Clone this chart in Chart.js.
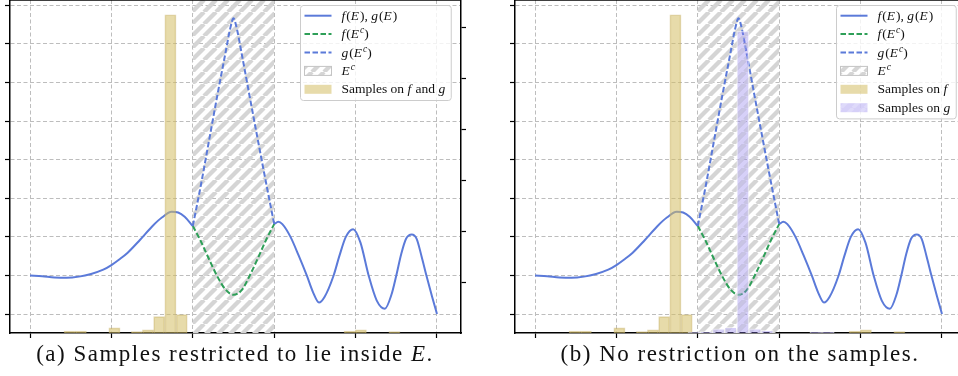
<!DOCTYPE html>
<html>
<head>
<meta charset="utf-8">
<script src="https://cdn.jsdelivr.net/npm/chart.js@4/dist/chart.umd.min.js"></script>
<style>
  html, body { margin: 0; padding: 0; background: #fff; }
  body { width: 958px; height: 376px; overflow: hidden; position: relative; }
  .panel { position: absolute; top: 0; width: 480px; height: 345px; }
  .caption { position: absolute; top: 341px; width: 460px; text-align: center;
             font-family: "Liberation Serif", serif; font-size: 23px; letter-spacing: 1.5px;
             color: #111; white-space: nowrap; }
</style>
</head>
<body>
<div class="panel" style="left:0"><canvas id="chartA" width="480" height="345"></canvas></div>
<div class="panel" style="left:505px"><canvas id="chartB" width="480" height="345"></canvas></div>
<div class="caption" style="left:5px">(a) Samples restricted to lie inside <i>E</i>.</div>
<div class="caption" style="left:510px">(b) No restriction on the samples.</div>
<script>
// axes
var xTicks = [0, 1, 2, 3, 4, 5];
var yTicks = [0, 1, 2, 3, 4, 5, 6, 7, 8];
var countTicks = [1, 2, 3, 4, 5, 6];
var xRange = [-0.246, 5.295];
var yRange = [-0.49, 8.135];
var countRange = [0, 6.53];

// the set E^c
var complement = [2, 3];

// f(E), g(E) : left part and right part
var leftX = [0, 0.15, 0.3, 0.45, 0.6, 0.75, 0.9, 1.0, 1.1, 1.2, 1.35, 1.5, 1.62, 1.74, 1.82, 1.9, 2.0];
var leftY = [1.00, 0.98, 0.95, 0.94, 0.97, 1.04, 1.15, 1.27, 1.42, 1.59, 1.92, 2.27, 2.50, 2.65, 2.63, 2.52, 2.28];
var rightX = [3.0, 3.05, 3.1, 3.2, 3.3, 3.4, 3.48, 3.55, 3.62, 3.73, 3.8, 3.88, 3.97, 4.06, 4.16, 4.26, 4.36, 4.44, 4.5, 4.56, 4.62, 4.69, 4.75, 4.81, 4.87, 4.94, 5.0];
var rightY = [2.33, 2.39, 2.33, 2.0, 1.52, 1.0, 0.55, 0.30, 0.45, 1.0, 1.5, 2.0, 2.20, 1.85, 1.0, 0.35, 0.14, 0.5, 1.0, 1.55, 1.95, 2.06, 1.95, 1.5, 1.0, 0.45, 0.0];

// f(E^c)
var fCompX = [2.0, 2.1, 2.2, 2.3, 2.4, 2.5, 2.6, 2.7, 2.8, 2.9, 3.0];
var fCompY = [2.28, 1.88, 1.42, 0.98, 0.64, 0.50, 0.62, 1.00, 1.45, 1.92, 2.33];

// g(E^c)
var gCompX = [2.0, 2.1, 2.2, 2.3, 2.4, 2.46, 2.5, 2.54, 2.6, 2.7, 2.8, 2.9, 3.0];
var gCompY = [2.28, 3.35, 4.50, 5.65, 6.75, 7.40, 7.66, 7.40, 6.75, 5.62, 4.50, 3.40, 2.33];

// histograms (bin index -> height on the right axis)
var fBinStart = 0.418, fBinWidth = 0.1376;
var fBins = [0, 1, 4, 6, 7, 8, 9, 10, 25, 26, 29];
var fHeights = [0.04, 0.04, 0.10, 0.03, 0.06, 0.32, 6.24, 0.36, 0.04, 0.06, 0.03];

var gBinStart = 1.88, gBinWidth = 0.1497;
var gBins = [0, 1, 2, 3, 4, 5, 6, 10, 11];
var gHeights = [0.02, 0.03, 0.08, 0.11, 5.92, 0.08, 0.05, 0.03, 0.03];

var blue = '#5b7ad9';
var green = '#2e9f58';
var gridColor = '#bdbdbd';
var serif = '"Liberation Serif", serif';

function points(xs, ys) {
	return xs.map(function(x, i) { return {x: x, y: ys[i]}; });
}

function bins(start, width, idx, heights) {
	return idx.map(function(k, i) { return {x: start + (k + 0.5) * width, y: heights[i]}; });
}

function hatch(stripe, base, size, width) {
	var c = document.createElement('canvas');
	c.width = size; c.height = size;
	var g = c.getContext('2d');
	if (base) { g.fillStyle = base; g.fillRect(0, 0, size, size); }
	g.strokeStyle = stripe;
	g.lineWidth = width;
	g.beginPath();
	for (var k = -size; k <= size; k += size) {
		g.moveTo(k, size);
		g.lineTo(k + size, 0);
	}
	g.stroke();
	return g.createPattern(c, 'repeat');
}

var grayHatch = hatch('#d5d5d5', null, 12, 4.3);
var purpleHatch = hatch('rgba(255,255,255,0.2)', 'rgba(140,125,235,0.36)', 12, 3.5);
var tanFill = 'rgba(212,190,100,0.55)';

function lab(s) {
	// tiny markup: *x* italic, ^x superscript
	var out = [], re = /(\*[^*]+\*|\^[^ )]+)/g, last = 0, m;
	while ((m = re.exec(s))) {
		if (m.index > last) out.push({t: s.slice(last, m.index)});
		if (m[0][0] == '*') out.push({t: m[0].slice(1, -1), it: true});
		else out.push({t: m[0].slice(1), it: true, sup: true});
		last = re.lastIndex;
	}
	if (last < s.length) out.push({t: s.slice(last)});
	return out;
}

function drawLegend(ctx, area, items) {
	var size = 13.5;
	function run(parts, draw, x, y) {
		parts.forEach(function(p) {
			ctx.font = (p.it ? 'italic ' : '') + (p.sup ? 9.5 : size) + 'px ' + serif;
			if (draw) ctx.fillText(p.t, x, y - (p.sup ? 5 : 0));
			x += ctx.measureText(p.t).width + (p.it && !p.sup ? 1 : 0);
		});
		return x;
	}
	var textW = 0;
	items.forEach(function(it) { textW = Math.max(textW, run(it.text, false, 0, 0)); });
	var rowH = 18.4, handleW = 27;
	var w = 4 + handleW + 10 + textW + 5;
	var h = items.length * rowH + 3;
	var x0 = Math.round(area.right - 10 - w) + 0.5, y0 = area.top + 5.5;

	ctx.beginPath();
	if (ctx.roundRect) ctx.roundRect(x0, y0, w, h, 3); else ctx.rect(x0, y0, w, h);
	ctx.fillStyle = 'rgba(255,255,255,0.8)';
	ctx.fill();
	ctx.strokeStyle = '#cccccc';
	ctx.lineWidth = 1;
	ctx.stroke();

	items.forEach(function(it, i) {
		var cy = y0 + 10.2 + i * rowH;
		var hx = x0 + 4;
		if (it.line) {
			ctx.setLineDash(it.dash || []);
			ctx.strokeStyle = it.line;
			ctx.lineWidth = 2;
			ctx.beginPath();
			ctx.moveTo(hx, cy);
			ctx.lineTo(hx + handleW, cy);
			ctx.stroke();
			ctx.setLineDash([]);
		} else {
			ctx.fillStyle = it.fill;
			ctx.fillRect(hx, cy - 4.5, handleW, 9);
			if (it.edge) {
				ctx.strokeStyle = it.edge;
				ctx.lineWidth = 1;
				ctx.strokeRect(hx, cy - 4.5, handleW, 9);
			}
		}
		ctx.fillStyle = '#111';
		ctx.textBaseline = 'alphabetic';
		run(it.text, true, hx + handleW + 10, cy + 4);
	});
}

var frame = {
	id: 'frame',
	afterDraw: function(chart, args, opts) {
		var a = chart.chartArea, ctx = chart.ctx;
		ctx.save();
		ctx.strokeStyle = '#000';
		ctx.lineWidth = 1.5;
		ctx.beginPath();
		ctx.moveTo(a.left, a.top);
		ctx.lineTo(a.right, a.top);
		ctx.stroke();
		drawLegend(ctx, a, opts.items);
		ctx.restore();
	}
};

function setTicks(list) {
	return function(s) { s.ticks = list.map(function(v) { return {value: v}; }); };
}

function makeChart(id, withG) {
	var curve = points(leftX, leftY).concat([{x: 2.5, y: null}], points(rightX, rightY));
	var datasets = [
		{type: 'line', label: 'E^c', data: [{x: complement[0], y: yRange[1]}, {x: complement[1], y: yRange[1]}],
			borderWidth: 0, pointRadius: 0, fill: 'start', backgroundColor: grayHatch, order: 10},
		{type: 'line', label: 'f(E), g(E)', data: curve, borderColor: blue, borderWidth: 2, pointRadius: 0,
			cubicInterpolationMode: 'monotone', spanGaps: false, fill: false, order: 5},
		{type: 'line', label: 'f(E^c)', data: points(fCompX, fCompY), borderColor: green, borderWidth: 2,
			borderDash: [5.5, 2.5], pointRadius: 0, cubicInterpolationMode: 'monotone', fill: false, order: 4},
		{type: 'line', label: 'g(E^c)', data: points(gCompX, gCompY), borderColor: blue, borderWidth: 2,
			borderDash: [5.5, 2.5], pointRadius: 0, cubicInterpolationMode: 'monotone', fill: false, order: 3},
		{type: 'bar', label: 'Samples on f', data: bins(fBinStart, fBinWidth, fBins, fHeights),
			xAxisID: 'x', yAxisID: 'y2', backgroundColor: tanFill, borderColor: 'rgba(200,178,105,0.5)',
			borderWidth: 1, barPercentage: 1, categoryPercentage: 1, grouped: false, order: 1}
	];
	var items = [
		{line: blue, text: lab('*f*(*E*), *g*(*E*)')},
		{line: green, dash: [5.5, 2.5], text: lab('*f*(*E*^c)')},
		{line: blue, dash: [5.5, 2.5], text: lab('*g*(*E*^c)')},
		{fill: grayHatch, edge: '#c4c4c4', text: lab('*E*^c')}
	];
	if (withG) {
		datasets.push({type: 'bar', label: 'Samples on g', data: bins(gBinStart, gBinWidth, gBins, gHeights),
			xAxisID: 'xg', yAxisID: 'y2', backgroundColor: purpleHatch, borderColor: 'rgba(255,255,255,0.55)',
			borderWidth: 1, barPercentage: 1, categoryPercentage: 1, grouped: false, order: 0});
		items.push({fill: tanFill, text: lab('Samples on *f*')});
		items.push({fill: purpleHatch, text: lab('Samples on *g*')});
	} else {
		items.push({fill: tanFill, text: lab('Samples on *f* and *g*')});
	}

	var tickGrid = {color: gridColor, lineWidth: 1, offset: false, tickColor: '#000', tickLength: 5, tickWidth: 1.2};
	return new Chart(document.getElementById(id).getContext('2d'), {
		type: 'line',
		data: {datasets: datasets},
		plugins: [frame],
		options: {
			responsive: false,
			animation: false,
			events: [],
			layout: {padding: 0},
			plugins: {legend: {display: false}, tooltip: {enabled: false}, frame: {items: items}},
			scales: {
				x: {type: 'linear', axis: 'x', position: 'bottom', min: xRange[0], max: xRange[1], offset: false,
					afterBuildTicks: setTicks(xTicks), afterFit: function(s) { s.height = 12; },
					ticks: {display: false}, grid: tickGrid,
					border: {color: '#000', width: 1.5, dash: [4, 2.5]}},
				xg: {type: 'linear', axis: 'x', position: 'bottom', display: false, min: xRange[0], max: xRange[1],
					offset: false, grid: {offset: false}, afterBuildTicks: setTicks(xTicks)},
				y: {type: 'linear', position: 'left', min: yRange[0], max: yRange[1],
					afterBuildTicks: setTicks(yTicks), afterFit: function(s) { s.width = 10; },
					ticks: {display: false}, grid: tickGrid,
					border: {color: '#000', width: 1.5, dash: [4, 2.5]}},
				y2: {type: 'linear', position: 'right', min: countRange[0], max: countRange[1],
					afterBuildTicks: setTicks(countTicks), afterFit: function(s) { s.width = 19; },
					ticks: {display: false},
					grid: {drawOnChartArea: false, tickColor: '#000', tickLength: 5, tickWidth: 1.2},
					border: {color: '#000', width: 1.5}}
			}
		}
	});
}

var chartA = makeChart('chartA', false);
var chartB = makeChart('chartB', true);
</script>
</body>
</html>
